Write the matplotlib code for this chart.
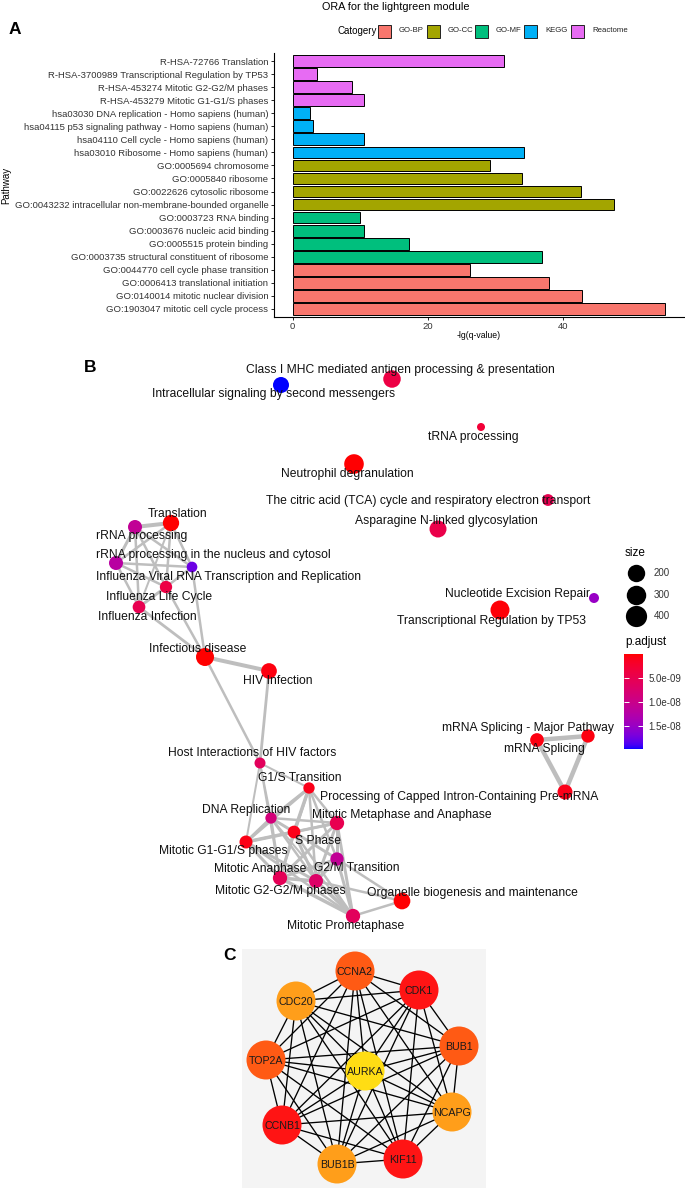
import numpy as np
import matplotlib
matplotlib.use('Agg')
import matplotlib.pyplot as plt
from matplotlib.patches import Rectangle
from matplotlib.colors import ListedColormap, Normalize
from matplotlib.cm import ScalarMappable

plt.rcParams['font.family'] = ['Liberation Sans', 'DejaVu Sans']

# ---------------- Panel A data ----------------
pathways = [
    "R-HSA-72766 Translation",
    "R-HSA-3700989 Transcriptional Regulation by TP53",
    "R-HSA-453274 Mitotic G2-G2/M phases",
    "R-HSA-453279 Mitotic G1-G1/S phases",
    "hsa03030 DNA replication - Homo sapiens (human)",
    "hsa04115 p53 signaling pathway - Homo sapiens (human)",
    "hsa04110 Cell cycle - Homo sapiens (human)",
    "hsa03010 Ribosome - Homo sapiens (human)",
    "GO:0005694 chromosome",
    "GO:0005840 ribosome",
    "GO:0022626 cytosolic ribosome",
    "GO:0043232 intracellular non-membrane-bounded organelle",
    "GO:0003723 RNA binding",
    "GO:0003676 nucleic acid binding",
    "GO:0005515 protein binding",
    "GO:0003735 structural constituent of ribosome",
    "GO:0044770 cell cycle phase transition",
    "GO:0006413 translational initiation",
    "GO:0140014 mitotic nuclear division",
    "GO:1903047 mitotic cell cycle process",
]
neg_lg_q = [31.3, 3.6, 8.8, 10.6, 2.6, 3.0, 10.6, 34.2,
            29.2, 33.9, 42.6, 47.5, 9.9, 10.6, 17.2, 36.9,
            26.3, 38.0, 42.8, 55.1]
category = ["Reactome"] * 4 + ["KEGG"] * 4 + ["GO-CC"] * 4 + ["GO-MF"] * 4 + ["GO-BP"] * 4
cat_levels = ["GO-BP", "GO-CC", "GO-MF", "KEGG", "Reactome"]
cat_colors = {"GO-BP": "#F8766D", "GO-CC": "#A3A500", "GO-MF": "#00BF7D",
              "KEGG": "#00B0F6", "Reactome": "#E76BF3"}

# ---------------- Panel B data (enrichment map) ----------------
b_terms = [
    "Class I MHC mediated antigen processing & presentation",   # 0
    "Intracellular signaling by second messengers",             # 1
    "tRNA processing",                                          # 2
    "Neutrophil degranulation",                                 # 3
    "The citric acid (TCA) cycle and respiratory electron transport",  # 4
    "Asparagine N-linked glycosylation",                        # 5
    "Translation",                                              # 6
    "rRNA processing",                                          # 7
    "rRNA processing in the nucleus and cytosol",               # 8
    "Influenza Viral RNA Transcription and Replication",        # 9
    "Influenza Life Cycle",                                     # 10
    "Influenza Infection",                                      # 11
    "Infectious disease",                                       # 12
    "HIV Infection",                                            # 13
    "Host Interactions of HIV factors",                         # 14
    "G1/S Transition",                                          # 15
    "Processing of Capped Intron-Containing Pre-mRNA",          # 16
    "DNA Replication",                                          # 17
    "Mitotic Metaphase and Anaphase",                           # 18
    "S Phase",                                                  # 19
    "Mitotic G1-G1/S phases",                                   # 20
    "G2/M Transition",                                          # 21
    "Mitotic Anaphase",                                         # 22
    "Mitotic G2-G2/M phases",                                   # 23
    "Organelle biogenesis and maintenance",                     # 24
    "Mitotic Prometaphase",                                     # 25
    "mRNA Splicing - Major Pathway",                            # 26
    "mRNA Splicing",                                            # 27
    "Nucleotide Excision Repair",                               # 28
    "Transcriptional Regulation by TP53",                       # 29
]
# layout coordinates of nodes
b_node_x = [392, 281, 481, 354, 548, 438, 171, 135, 116, 192, 166, 139, 205, 269,
            260, 309, 565, 271, 337, 294, 246, 337, 280, 316, 402, 353, 588, 537, 594, 500]
b_node_y = [379, 385, 427, 464, 500, 529, 523, 527, 563, 567, 587, 607, 657, 671,
            763, 788, 792, 818, 823, 832, 842, 859, 878, 881, 901, 916, 736, 740, 598, 610]
# label coordinates
b_lab_x = [400, 274, 473, 347, 428, 446, 178, 142, 213, 229, 159, 147, 198, 278,
           252, 300, 459, 246, 402, 318, 223, 357, 260, 280, 472, 346, 528, 544, 518, 492]
b_lab_y = [370, 394, 437, 474, 501, 521, 514, 536, 555, 577, 597, 617, 649, 681,
           753, 778, 797, 810, 815, 841, 851, 868, 869, 891, 893, 926, 728, 749, 594, 621]
b_size = [263, 190, 10, 387, 51, 237, 203, 111, 111, 30, 62, 72, 291, 176,
          35, 41, 147, 41, 121, 72, 80, 89, 121, 111, 222, 121, 89, 101, 21, 349]
b_padj = [4.0e-9, 1.97e-8, 3.0e-9, 1e-10, 5.0e-9, 4.5e-9, 2e-11, 1.1e-8, 1.2e-8, 1.75e-8,
          4.0e-9, 5.0e-9, 1e-12, 5e-10, 6.0e-9, 1e-9, 1e-9, 8.5e-9, 5.0e-9, 1e-9,
          8e-10, 1.1e-8, 5.5e-9, 7.0e-9, 1e-10, 6.0e-9, 5e-10, 6e-10, 1.5e-8, 3e-10]
b_edges = [
    (6, 7, 4.0), (6, 8, 2.5), (6, 9, 2.5), (6, 10, 2.5), (6, 11, 2.0),
    (7, 8, 3.0), (7, 9, 2.5), (7, 10, 2.5), (7, 11, 2.5),
    (8, 9, 2.5), (8, 10, 2.5), (8, 11, 2.5), (9, 10, 2.5), (10, 11, 3.0),
    (11, 12, 2.8), (10, 12, 2.5), (9, 12, 2.5), (12, 13, 4.0),
    (12, 14, 2.5), (13, 14, 2.8),
    (14, 20, 2.0), (14, 17, 2.0), (14, 15, 2.0), (14, 22, 2.0),
    (15, 17, 3.0), (15, 19, 3.5), (15, 20, 3.0), (15, 18, 2.5), (15, 21, 2.5),
    (15, 22, 2.5), (15, 23, 2.5),
    (17, 19, 3.0), (17, 20, 3.0), (17, 18, 2.5), (17, 22, 2.5), (17, 23, 2.5), (17, 25, 2.0),
    (19, 20, 3.5), (19, 18, 3.0), (19, 21, 3.0), (19, 22, 3.0), (19, 23, 3.0), (19, 25, 2.5),
    (20, 18, 2.5), (20, 22, 3.0), (20, 23, 3.0), (20, 25, 2.5),
    (18, 21, 3.0), (18, 22, 3.0), (18, 23, 3.0), (18, 25, 3.0),
    (21, 22, 3.0), (21, 23, 3.5), (21, 25, 3.0), (21, 24, 2.5),
    (22, 23, 3.5), (22, 25, 3.5), (23, 25, 3.5), (23, 24, 2.5), (25, 24, 2.5),
    (26, 27, 4.5), (26, 16, 4.5), (27, 16, 4.5),
]
size_breaks = [200, 300, 400]
padj_ticks = [5e-9, 1e-8, 1.5e-8]
padj_ticklabels = ["5.0e-09", "1.0e-08", "1.5e-08"]
padj_range = (0.0, 1.97e-8)

# ---------------- Panel C data (hub genes) ----------------
hub_genes = ["CCNA2", "CDK1", "CDC20", "BUB1", "TOP2A", "AURKA", "NCAPG", "CCNB1", "KIF11", "BUB1B"]
hub_x = [355, 419, 296, 459, 266, 365, 452, 282, 403, 337]
hub_y = [971, 990, 1001, 1046, 1060, 1071, 1112, 1125, 1159, 1164]
hub_rank = [3, 4, 2, 3, 3, 1, 2, 4, 4, 2]
rank_colors = {1: "#FFDD14", 2: "#FF9E1A", 3: "#FF5A14", 4: "#FF1414"}

# ---------------- helpers ----------------
W, H = 685, 1188
fig = plt.figure(figsize=(6.85, 11.88), dpi=100)


def fx(x):
    return x / W


def fy(y):
    return 1 - y / H


def srgb_to_lab(rgb):
    rgb = np.asarray(rgb, float)
    c = np.where(rgb <= 0.04045, rgb / 12.92, ((rgb + 0.055) / 1.055) ** 2.4)
    M = np.array([[0.4124, 0.3576, 0.1805], [0.2126, 0.7152, 0.0722], [0.0193, 0.1192, 0.9505]])
    xyz = M @ c / np.array([0.95047, 1.0, 1.08883])
    f = np.where(xyz > 0.008856, np.cbrt(xyz), 7.787 * xyz + 16 / 116)
    return np.array([116 * f[1] - 16, 500 * (f[0] - f[1]), 200 * (f[1] - f[2])])


def lab_to_srgb(lab):
    L, a, b = lab
    fy_ = (L + 16) / 116
    f = np.array([fy_ + a / 500, fy_, fy_ - b / 200])
    xyz = np.where(f ** 3 > 0.008856, f ** 3, (f - 16 / 116) / 7.787) * np.array([0.95047, 1.0, 1.08883])
    M = np.array([[0.4124, 0.3576, 0.1805], [0.2126, 0.7152, 0.0722], [0.0193, 0.1192, 0.9505]])
    c = np.linalg.solve(M, xyz)
    c = np.clip(c, 0, 1)
    rgb = np.where(c <= 0.0031308, 12.92 * c, 1.055 * c ** (1 / 2.4) - 0.055)
    return np.clip(rgb, 0, 1)


lab_r = srgb_to_lab([1, 0, 0])
lab_b = srgb_to_lab([0, 0, 1])
cmap = ListedColormap([lab_to_srgb(lab_r + t * (lab_b - lab_r)) for t in np.linspace(0, 1, 256)])
norm = Normalize(*padj_range)


def size_to_s(v):
    v = np.asarray(v, float)
    d_px = 8 + 14 * np.sqrt(np.clip((v - 10) / 550, 0, 1))
    return (d_px * 0.72) ** 2


# ---------------- Panel B & C canvas ----------------
axb = fig.add_axes([0, 0, 1, 1], zorder=0)
axb.set_xlim(0, W)
axb.set_ylim(H, 0)
axb.axis('off')
axb.patch.set_alpha(0)

for a, b, w in b_edges:
    axb.plot([b_node_x[a], b_node_x[b]], [b_node_y[a], b_node_y[b]], color='#BEBEBE',
             lw=w * 0.72, solid_capstyle='butt', zorder=1)
axb.scatter(b_node_x, b_node_y, s=size_to_s(b_size), c=b_padj, cmap=cmap, norm=norm,
            linewidths=0, zorder=2)
for t, lx, ly in zip(b_terms, b_lab_x, b_lab_y):
    axb.text(lx, ly, t, ha='center', va='center', fontsize=8.7, color='#111111', zorder=3)

# size legend
axb.text(625, 553, "size", ha='left', va='center', fontsize=8.5)
for k, br in enumerate(size_breaks):
    yy = 573 + k * 21.5
    axb.scatter([636], [yy], s=size_to_s([br]) * 1.15, color='black', linewidths=0, zorder=2)
    axb.text(654, yy, str(br), ha='left', va='center', fontsize=7, color='#333333')
axb.text(625, 642, "p.adjust", ha='left', va='center', fontsize=8.5)

cax = fig.add_axes([fx(624), fy(749), 19 / W, 95 / H])
cb = fig.colorbar(ScalarMappable(norm=norm, cmap=cmap), cax=cax)
cax.invert_yaxis()
cb.set_ticks(padj_ticks)
cb.set_ticklabels(padj_ticklabels)
cb.outline.set_visible(False)
cax.tick_params(direction='in', length=3.5, width=0.7, color='white', left=True, right=True,
                labelsize=7, labelcolor='#333333', pad=4)

# Panel C
axb.add_patch(Rectangle((242, 949), 244, 239, facecolor='#F4F4F4', edgecolor='none', zorder=0.5))
n = len(hub_genes)
for i in range(n):
    for j in range(i + 1, n):
        axb.plot([hub_x[i], hub_x[j]], [hub_y[i], hub_y[j]], color='black', lw=0.95, zorder=1)
axb.scatter(hub_x, hub_y, s=(39 * 0.72) ** 2, c=[rank_colors[r] for r in hub_rank],
            linewidths=0, zorder=2)
for g, xx, yy in zip(hub_genes, hub_x, hub_y):
    axb.text(xx, yy + 1, g, ha='center', va='center', fontsize=7.7, color='#1a1a1a', zorder=3)

# ---------------- Panel A ----------------
axa = fig.add_axes([fx(274), fy(316.8), (683.6 - 274) / W, (316.8 - 53.2) / H], zorder=2)
nb = len(pathways)
ypos = np.arange(nb)[::-1]
axa.barh(ypos, neg_lg_q, height=0.9, color=[cat_colors[c] for c in category],
         edgecolor='black', linewidth=0.7)
axa.set_yticks(ypos)
axa.set_yticklabels(pathways)
axa.set_ylim(-0.6, nb - 0.4)
xmax = max(neg_lg_q)
axa.set_xlim(-0.05 * xmax, 1.05 * xmax)
axa.set_xticks([0, 20, 40])
for s in ['top', 'right']:
    axa.spines[s].set_visible(False)
for s in ['left', 'bottom']:
    axa.spines[s].set_linewidth(0.8)
axa.tick_params(axis='both', labelsize=6.8, labelcolor='#333333', length=2.5, width=0.6, pad=1.5)
axa.set_facecolor('none')
fig.text(fx(479), fy(336), "-lg(q-value)", ha='center', va='center', fontsize=6.2)
fig.text(fx(6), fy(185), "Pathway", ha='center', va='center', rotation=90, fontsize=7)
fig.text(fx(396), fy(7), "ORA for the lightgreen module", ha='center', va='center', fontsize=7.8)

# legend
fig.text(fx(338), fy(31), "Catogery", ha='left', va='center', fontsize=7)
key_x = [378, 427, 475, 524, 571]
for cat, kx in zip(cat_levels, key_x):
    fig.patches.append(Rectangle((fx(kx), fy(37.5)), 13 / W, 13 / H, transform=fig.transFigure,
                                 facecolor=cat_colors[cat], edgecolor='#222222', linewidth=0.7))
    fig.text(fx(kx + 21), fy(31), cat, ha='left', va='center', fontsize=5.6, color='#222222')

# panel letters
fig.text(fx(15), fy(30), "A", ha='center', va='center', fontsize=12.5, fontweight='bold')
fig.text(fx(90), fy(368), "B", ha='center', va='center', fontsize=12.5, fontweight='bold')
fig.text(fx(229), fy(955), "C", ha='center', va='center', fontsize=12.5, fontweight='bold')

fig.savefig("out.png", dpi=100)
